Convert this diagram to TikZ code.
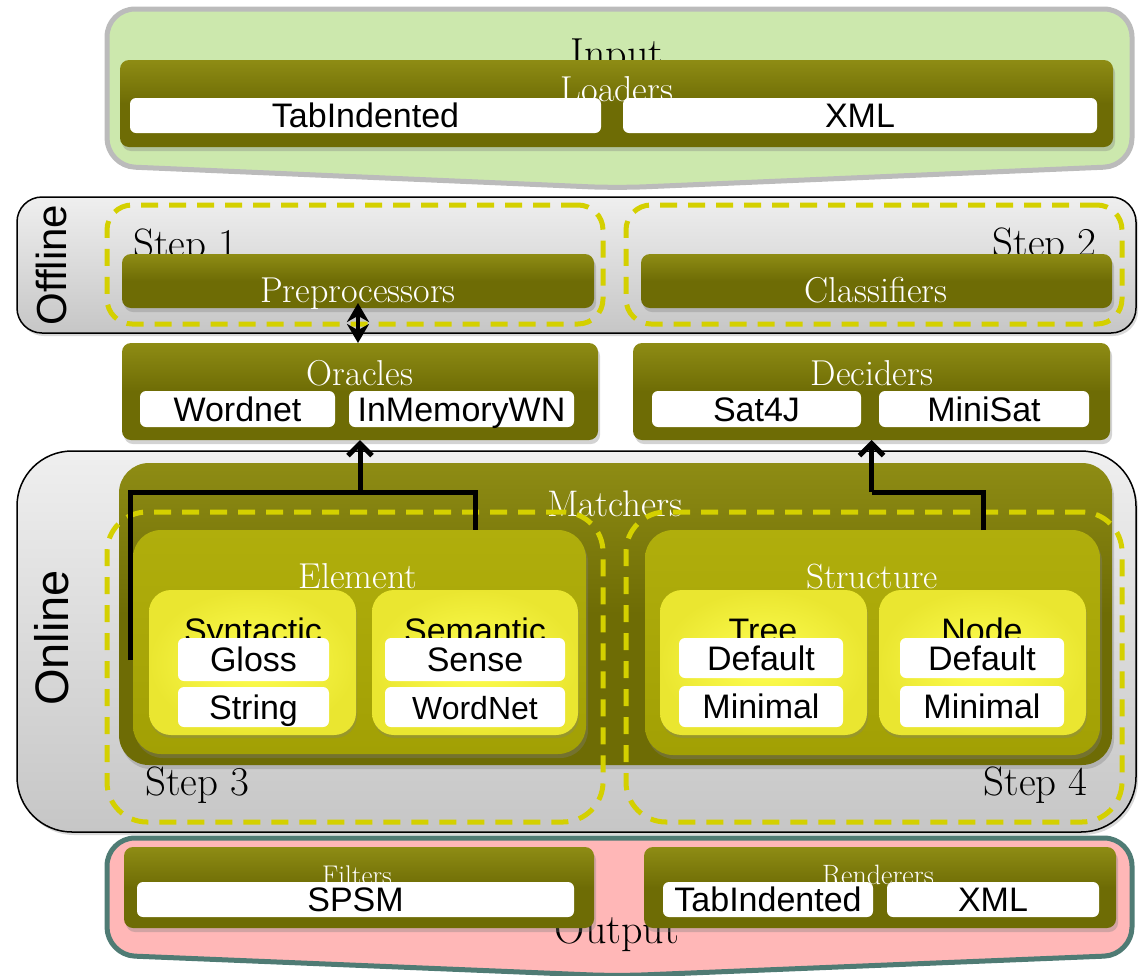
\documentclass[tikz,border=0pt]{standalone}
\usepackage{fontspec}
\newfontfamily\arialf{Liberation Sans}
\usetikzlibrary{fit,shadows,arrows.meta,calc}
\newcommand\fsz[1]{\fontsize{#1}{#1}\selectfont}
\definecolor{olv}{HTML}{6E6C05}
\definecolor{olvL}{HTML}{8E8C14}
\definecolor{elm}{HTML}{A2A004}
\definecolor{elmL}{HTML}{B0AE0C}
\definecolor{ylw}{HTML}{FFFF52}
\definecolor{ylwD}{HTML}{EAE630}
\definecolor{dashc}{HTML}{D4D000}
\definecolor{ingreen}{HTML}{CCE8AD}
\definecolor{ingray}{HTML}{BBBBBB}
\definecolor{outpink}{HTML}{FFB7B7}
\definecolor{outteal}{HTML}{4F7B74}
\definecolor{panT}{HTML}{EFEFEF}
\definecolor{panB}{HTML}{C6C6C6}
% white box: name, x1, y1, x2, y2, text
\newcommand\wbox[6]{\node[whitebox, minimum width={#4-#2}, minimum height={#5-#3}] (#1) at ({(#2+#4)/2},{(#3+#5)/2}) {#6};}
\begin{document}
\begin{tikzpicture}[x=1pt,y=-1pt,
  bx/.style={inner sep=0pt, outer sep=0pt},
  olivebar/.style={bx, rounded corners=9pt, top color=olvL, bottom color=olv, middle color=olv,
    drop shadow={shadow xshift=2pt, shadow yshift=-4pt, opacity=0.35}},
  elembox/.style={bx, rounded corners=28pt, top color=elmL, bottom color=elm,
    drop shadow={shadow xshift=2pt, shadow yshift=-4pt, opacity=0.35}},
  ylwbox/.style={bx, rounded corners=22pt, inner color=ylw, outer color=ylwD,
    drop shadow={shadow xshift=1pt, shadow yshift=-3pt, opacity=0.3}},
  panel/.style={bx, draw=black, line width=1.5pt, top color=panT, bottom color=panB,
    drop shadow={shadow xshift=2pt, shadow yshift=-3pt, opacity=0.3}},
  stepbox/.style={bx, draw=dashc, line width=5pt, dash pattern=on 17pt off 11pt},
  whitebox/.style={bx, fill=white, rounded corners=6pt, font=\arialf\fsz{34},
    text height=26pt, text depth=2pt},
  wlbl/.style={anchor=base, text=white, inner sep=0pt},
  blbl/.style={inner sep=0pt, text=black},
  slbl/.style={anchor=base, inner sep=0pt, font=\arialf\fsz{34}},
  conn/.style={line width=5pt, black},
  arr/.style={conn, -{Straight Barb[length=12pt,width=24pt]}},
  dbl/.style={line width=4pt, {Stealth[length=19pt,width=22pt]}-{Stealth[length=19pt,width=22pt]}}
]
\useasboundingbox (0,0) rectangle (1141,975);

% ---------------- Input
\draw[line width=5pt, draw=ingray, fill=ingreen, rounded corners=28pt]
  (107,9) -- (1132,9) -- (1132,166) -- (617,188) -- (107,166) -- cycle;
\node[blbl, anchor=base, font=\fsz{42}] (inputlbl) at (617,67) {Input};
\node[olivebar, fit={(120,60) (1113,147)}] (loaders) {};
\node[wlbl, font=\fsz{36}] (loaderslbl) at (617,101) {Loaders};
\wbox{ltab}{130}{98}{601}{133}{TabIndented}
\wbox{lxml}{623}{98}{1097}{133}{XML}

% ---------------- Offline
\node[panel, rounded corners=25pt, fit={(17,197) (1136,333)}] (offline) {};
\node[blbl, rotate=90, font=\arialf\fsz{42}] (offlinelbl) at (51,265) {Offline};
\node[stepbox, rounded corners=25pt, fit={(107,205) (603,324)}] (s1) {};
\node[stepbox, rounded corners=25pt, fit={(626,205) (1122,324)}] (s2) {};
\node[blbl, anchor=base west, font=\fsz{41}] (s1lbl) at (133,257) {Step 1};
\node[blbl, anchor=base east, font=\fsz{41}] (s2lbl) at (1097,256) {Step 2};
\node[olivebar, fit={(122,254) (594,308)}] (prep) {};
\node[wlbl, font=\fsz{36}] (preplbl) at (358,302) {Preprocessors};
\node[olivebar, fit={(641,254) (1112,308)}] (clas) {};
\node[wlbl, font=\fsz{36}] (claslbl) at (876,302) {Classifiers};

% ---------------- Oracles / Deciders
\node[olivebar, fit={(122,343) (598,440)}] (orac) {};
\node[wlbl, font=\fsz{36}] (oraclbl) at (360,385) {Oracles};
\wbox{wn}{140}{391}{335}{427}{Wordnet}
\wbox{imwn}{349}{391}{574}{427}{InMemoryWN}
\node[olivebar, fit={(633,343) (1110,440)}] (dec) {};
\node[wlbl, font=\fsz{36}] (declbl) at (872,385) {Deciders};
\wbox{sat}{652}{391}{861}{427}{Sat4J}
\wbox{mini}{879}{391}{1089}{427}{MiniSat}

\coordinate (dtop) at (358,303);
\draw[dbl] (dtop) -- (dtop |- orac.north);

% ---------------- Online
\node[panel, rounded corners=55pt, fit={(17,451) (1136,832)}] (online) {};
\node[blbl, rotate=90, font=\arialf\fsz{47}] (onlinelbl) at (52,638) {Online};
\node[olivebar, rounded corners=30pt, fit={(119,463) (1112,765)}] (match) {};
\node[wlbl, font=\fsz{37}] (matchlbl) at (615,516) {Matchers};
\node[stepbox, rounded corners=40pt, fit={(107,512) (603,822)}] (s3) {};
\node[stepbox, rounded corners=40pt, fit={(626,512) (1122,822)}] (s4) {};
\node[blbl, anchor=base west, font=\fsz{41}] (s3lbl) at (145,795) {Step 3};
\node[blbl, anchor=base east, font=\fsz{41}] (s4lbl) at (1088,795) {Step 4};

% Element
\node[elembox, fit={(133,530) (586,754)}] (elem) {};
\node[wlbl, font=\fsz{36}] (elemlbl) at (358,588) {Element};
\node[ylwbox, fit={(149,590) (356,735)}] (syn) {};
\node[slbl] (synlbl) at (253,642) {Syntactic};
\wbox{gloss}{178}{638}{329}{681}{Gloss}
\wbox{string}{178}{687}{329}{727}{String}
\node[ylwbox, fit={(372,590) (578,735)}] (sem) {};
\node[slbl] (semlbl) at (475,642) {Semantic};
\wbox{sense}{385}{638}{565}{681}{Sense}
\wbox{wnet}{385}{687}{565}{727}{\fsz{32}WordNet}

% Structure
\node[elembox, fit={(645,530) (1100,755)}] (struct) {};
\node[wlbl, font=\fsz{35}] (structlbl) at (872,588) {Structure};
\node[ylwbox, fit={(660,590) (867,735)}] (tree) {};
\node[slbl] (treelbl) at (763,642) {Tree};
\wbox{tdef}{679}{638}{843}{678}{Default}
\wbox{tmin}{679}{686}{843}{727}{Minimal}
\node[ylwbox, fit={(879,590) (1086,735)}] (nodeb) {};
\node[slbl] (nodelbl) at (982,642) {Node};
\wbox{ndef}{900}{638}{1064}{678}{Default}
\wbox{nmin}{900}{686}{1064}{727}{Minimal}

% connectors
\coordinate (eL) at (130,660);
\coordinate (jL) at (130,492);
\coordinate (jR) at (475,492);
\coordinate (eT) at (475,530);
\coordinate (jO) at (360,492);
\draw[conn] (eL) -- (jL) -- (jR) -- (eT);
\draw[arr] (jO) -- (orac.south);
\coordinate (sT) at (983,530);
\coordinate (jD) at (dec.south |- jL);
\draw[conn] (sT) |- (jD);
\draw[arr] (jD) -- (dec.south);

% ---------------- Output
\draw[line width=5pt, draw=outteal, fill=outpink, rounded corners=28pt]
  (107,838) -- (1132,838) -- (1132,955) -- (617,976) -- (107,955) -- cycle;
\node[blbl, anchor=base, font=\fsz{42}] (outputlbl) at (617,943) {Output};
\node[olivebar, fit={(124,847) (594,928)}] (filt) {};
\node[wlbl, font=\fsz{27}] (filtlbl) at (357,884) {Filters};
\wbox{spsm}{137}{882}{574}{917}{SPSM}
\node[olivebar, fit={(644,847) (1116,928)}] (rend) {};
\node[wlbl, font=\fsz{28}] (rendlbl) at (878,884) {Renderers};
\wbox{rtab}{663}{882}{873}{917}{TabIndented}
\wbox{rxml}{887}{882}{1099}{917}{XML}
\end{tikzpicture}
\end{document}
